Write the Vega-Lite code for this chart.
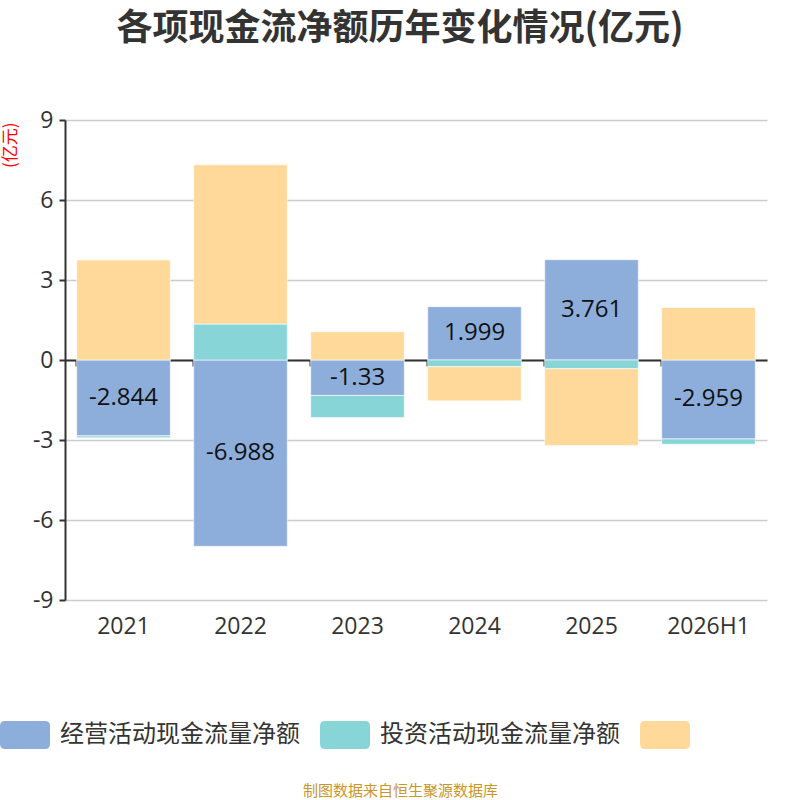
{
  "$schema": "https://vega.github.io/schema/vega-lite/v6.json",
  "autosize": "none",
  "width": 702,
  "height": 480,
  "padding": {"left": 65, "top": 120, "right": 33, "bottom": 200},
  "background": "#ffffff",
  "config": {"view": {"stroke": null}},
  "title": {
    "text": "各项现金流净额历年变化情况(亿元)",
    "font": "Noto Sans CJK SC",
    "fontSize": 36,
    "fontWeight": "bold",
    "color": "#333333",
    "anchor": "middle",
    "dx": -16,
    "offset": 61
  },
  "data": {
    "values": [
      {"period": "2021", "type": "经营活动现金流量净额", "k": 1, "value": -2.844},
      {"period": "2021", "type": "投资活动现金流量净额", "k": 2, "value": -0.07},
      {"period": "2021", "type": "筹资活动现金流量净额", "k": 3, "value": 3.75},
      {"period": "2022", "type": "经营活动现金流量净额", "k": 1, "value": -6.988},
      {"period": "2022", "type": "投资活动现金流量净额", "k": 2, "value": 1.35},
      {"period": "2022", "type": "筹资活动现金流量净额", "k": 3, "value": 5.97},
      {"period": "2023", "type": "经营活动现金流量净额", "k": 1, "value": -1.33},
      {"period": "2023", "type": "投资活动现金流量净额", "k": 2, "value": -0.83},
      {"period": "2023", "type": "筹资活动现金流量净额", "k": 3, "value": 1.06},
      {"period": "2024", "type": "经营活动现金流量净额", "k": 1, "value": 1.999},
      {"period": "2024", "type": "投资活动现金流量净额", "k": 2, "value": -0.25},
      {"period": "2024", "type": "筹资活动现金流量净额", "k": 3, "value": -1.28},
      {"period": "2025", "type": "经营活动现金流量净额", "k": 1, "value": 3.761},
      {"period": "2025", "type": "投资活动现金流量净额", "k": 2, "value": -0.33},
      {"period": "2025", "type": "筹资活动现金流量净额", "k": 3, "value": -2.88},
      {"period": "2026H1", "type": "经营活动现金流量净额", "k": 1, "value": -2.959},
      {"period": "2026H1", "type": "投资活动现金流量净额", "k": 2, "value": -0.2},
      {"period": "2026H1", "type": "筹资活动现金流量净额", "k": 3, "value": 1.97}
    ]
  },
  "encoding": {
    "x": {
      "field": "period",
      "type": "nominal",
      "sort": null,
      "scale": {"paddingInner": 0.2, "paddingOuter": 0.1},
      "axis": {
        "title": "制图数据来自恒生聚源数据库",
        "titleFont": "Noto Sans CJK SC",
        "titleFontSize": 15,
        "titleFontWeight": "normal",
        "titleColor": "#c9962a",
        "titleX": 335,
        "titleY": 430,
        "titleBaseline": "middle",
        "offset": -240,
        "labelAngle": 0,
        "labelFont": "Open Sans",
        "labelFontSize": 23,
        "labelColor": "#333333",
        "labelPadding": 260,
        "labelBaseline": "middle",
        "domainColor": "#333333",
        "domainWidth": 2,
        "tickColor": "#333333",
        "tickWidth": 2,
        "tickSize": 6,
        "bandPosition": 0,
        "grid": false
      }
    },
    "y": {
      "field": "value",
      "type": "quantitative",
      "stack": "zero",
      "scale": {"domain": [-9, 9]},
      "axis": {
        "values": [-9, -6, -3, 0, 3, 6, 9],
        "labelExpr": "replace(datum.label, '−', '-')",
        "title": "(亿元)",
        "titleColor": "#ff0000",
        "titleFont": "Noto Sans CJK SC",
        "titleFontSize": 17,
        "titleFontWeight": "normal",
        "titleAngle": -90,
        "titleAlign": "right",
        "titleBaseline": "middle",
        "titleX": -55,
        "titleY": 2,
        "labelFont": "Open Sans",
        "labelFontSize": 23,
        "labelColor": "#333333",
        "labelPadding": 6,
        "domainColor": "#333333",
        "domainWidth": 2,
        "tickColor": "#333333",
        "tickWidth": 2,
        "tickSize": 6,
        "gridColor": "#cccccc",
        "gridWidth": 1.5
      }
    },
    "order": {"field": "k", "type": "quantitative"}
  },
  "layer": [
    {
      "mark": {"type": "bar", "stroke": "#ffffff", "strokeWidth": 1, "strokeOpacity": 0.6},
      "encoding": {
        "color": {
          "field": "type",
          "type": "nominal",
          "scale": {
            "domain": ["经营活动现金流量净额", "投资活动现金流量净额", "筹资活动现金流量净额"],
            "range": ["#8daedb", "#88d5d8", "#fed99a"]
          },
          "legend": {
            "orient": "none",
            "legendX": -65,
            "legendY": 590,
            "direction": "horizontal",
            "title": null,
            "symbolType": "M-0.8,-0.56 L0.8,-0.56 Q1,-0.56 1,-0.36 L1,0.36 Q1,0.56 0.8,0.56 L-0.8,0.56 Q-1,0.56 -1,0.36 L-1,-0.36 Q-1,-0.56 -0.8,-0.56 Z",
            "symbolSize": 2500,
            "symbolStrokeWidth": 0,
            "symbolOpacity": 1,
            "labelFont": "Noto Sans CJK SC",
            "labelFontSize": 24,
            "labelColor": "#333333",
            "labelOffset": 10,
            "labelLimit": 300,
            "columnPadding": 20,
            "labelExpr": "datum.label == '筹资活动现金流量净额' ? '' : datum.label"
          }
        }
      }
    },
    {
      "mark": {"type": "text", "font": "Open Sans", "fontSize": 24, "color": "#111111", "baseline": "middle"},
      "encoding": {
        "y": {"field": "value", "type": "quantitative", "stack": "zero", "bandPosition": 0.5},
        "text": {
          "condition": {"test": "datum.type == '经营活动现金流量净额'", "field": "value", "type": "nominal"},
          "value": ""
        }
      }
    }
  ]
}
